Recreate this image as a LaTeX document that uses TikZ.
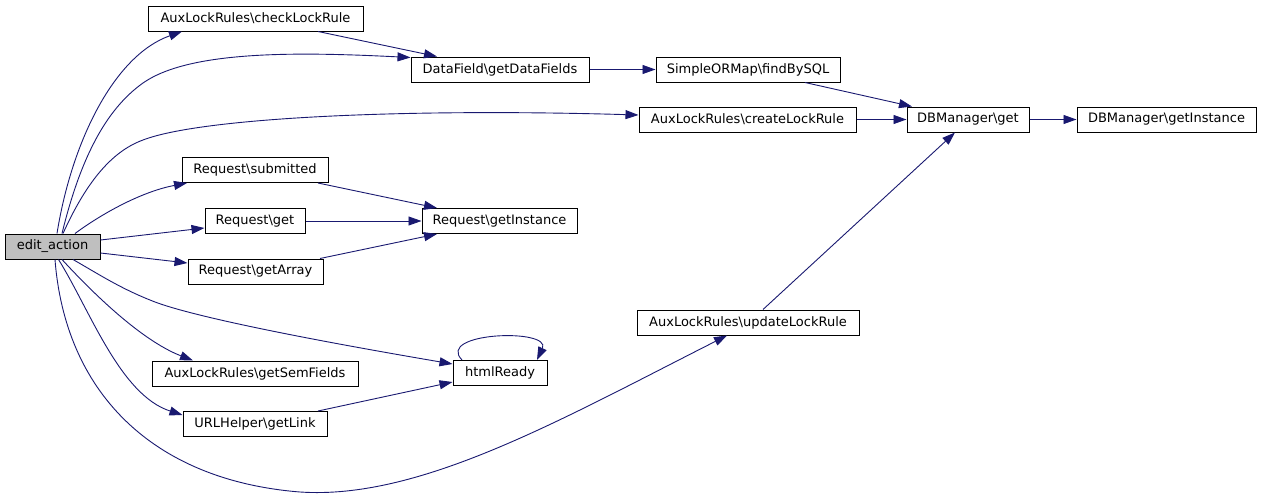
\documentclass[tikz,border=0pt]{standalone}
\usepackage{fontspec}
\setmainfont{DejaVu Sans}
\usetikzlibrary{arrows.meta}
\definecolor{edgeblue}{HTML}{191970}
\definecolor{mainfill}{HTML}{BFBFBF}
\begin{document}
\begin{tikzpicture}[x=1pt,y=-1pt,
  box/.style={draw=black,line width=1pt,fill=white,rectangle,minimum height=25pt,inner sep=0pt,anchor=center,font=\fontsize{13}{15}\selectfont},
  edge/.style={draw=edgeblue,line width=0.9pt,-{Triangle[length=13pt,width=9pt]},edgeblue}]
\useasboundingbox (0,0) rectangle (1261,498);
% nodes
\node[box,fill=mainfill,minimum width=95pt] (edit) at (52.5,246.5) {edit\_action};
\node[box,minimum width=215pt] (check) at (255.5,18.5) {AuxLockRules\textbackslash checkLockRule};
\node[box,minimum width=178pt] (dfields) at (500,69.5) {DataField\textbackslash getDataFields};
\node[box,minimum width=184pt] (findsql) at (748,69.5) {SimpleORMap\textbackslash findBySQL};
\node[box,minimum width=217pt] (create) at (747.5,119.5) {AuxLockRules\textbackslash createLockRule};
\node[box,minimum width=122pt] (dbget) at (968,119.5) {DBManager\textbackslash get};
\node[box,minimum width=179pt] (dbinst) at (1166.5,119.5) {DBManager\textbackslash getInstance};
\node[box,minimum width=146pt] (submitted) at (255,170) {Request\textbackslash submitted};
\node[box,minimum width=100pt] (rget) at (255,221) {Request\textbackslash get};
\node[box,minimum width=155pt] (rinst) at (499.5,221) {Request\textbackslash getInstance};
\node[box,minimum width=135pt] (getarray) at (255.5,271.5) {Request\textbackslash getArray};
\node[box,minimum width=222pt] (update) at (748,322.5) {AuxLockRules\textbackslash updateLockRule};
\node[box,minimum width=206pt] (semfields) at (255,373.5) {AuxLockRules\textbackslash getSemFields};
\node[box,minimum width=94pt] (html) at (500,373) {htmlReady};
\node[box,minimum width=144pt] (getlink) at (255,424) {URLHelper\textbackslash getLink};
% edges from edit_action
\draw[edge] ([xshift=4.5pt]edit.north) .. controls (72,140) and (115,55) .. ([xshift=-73.5pt]check.south);
\draw[edge] ([xshift=9.5pt]edit.north) .. controls (80,160) and (105,110) .. (143,83)
  .. controls (190,50) and (300,52) .. ([yshift=-1pt]dfields.north west);
\draw[edge] ([xshift=10.5pt]edit.north) .. controls (85,185) and (110,152) .. (143,140)
  .. controls (200,118) and (400,108) .. ([yshift=4.5pt]create.west);
\draw[edge] ([xshift=22.5pt]edit.north) .. controls (100,215) and (140,192) .. ([xshift=-68pt]submitted.south);
\draw[edge] ([yshift=6.5pt]edit.east) -- ([yshift=-7pt]rget.west);
\draw[edge] ([yshift=-6.5pt]edit.east) -- ([yshift=8.5pt]getarray.west);
\draw[edge] ([xshift=20.5pt]edit.south) .. controls (100,275) and (120,288) .. (150,300)
  .. controls (185,315) and (300,338) .. ([yshift=9pt]html.west);
\draw[edge] ([xshift=9.5pt]edit.south) .. controls (90,290) and (140,340) .. ([xshift=-62pt]semfields.north);
\draw[edge] ([xshift=6pt]edit.south) .. controls (90,310) and (120,395) .. ([yshift=9pt]getlink.west);
\draw[edge] ([xshift=2.5pt]edit.south) .. controls (65,390) and (150,480) .. (300,492)
  .. controls (420,500) and (560,420) .. ([xshift=-21pt]update.south);
% other edges
\draw[edge] ([xshift=62.5pt]check.south) -- ([xshift=-63pt]dfields.north);
\draw[edge] (dfields.east) -- (findsql.west);
\draw[edge] ([xshift=57pt]findsql.south) -- ([xshift=-56pt]dbget.north);
\draw[edge] (create.east) -- (dbget.west);
\draw[edge] (dbget.east) -- (dbinst.west);
\draw[edge] ([xshift=15pt]update.north) -- ([xshift=-13pt]dbget.south);
\draw[edge] ([xshift=63pt]submitted.south) -- ([xshift=-62.5pt]rinst.north);
\draw[edge] (rget.east) -- (rinst.west);
\draw[edge] ([xshift=64.5pt]getarray.north) -- ([xshift=-62.5pt]rinst.south);
\draw[edge] ([xshift=-38pt]html.north) .. controls (435,332) and (552,328) .. ([xshift=37pt]html.north);
\draw[edge] ([xshift=63pt]getlink.north) -- ([yshift=-9pt]html.west);
\end{tikzpicture}
\end{document}
